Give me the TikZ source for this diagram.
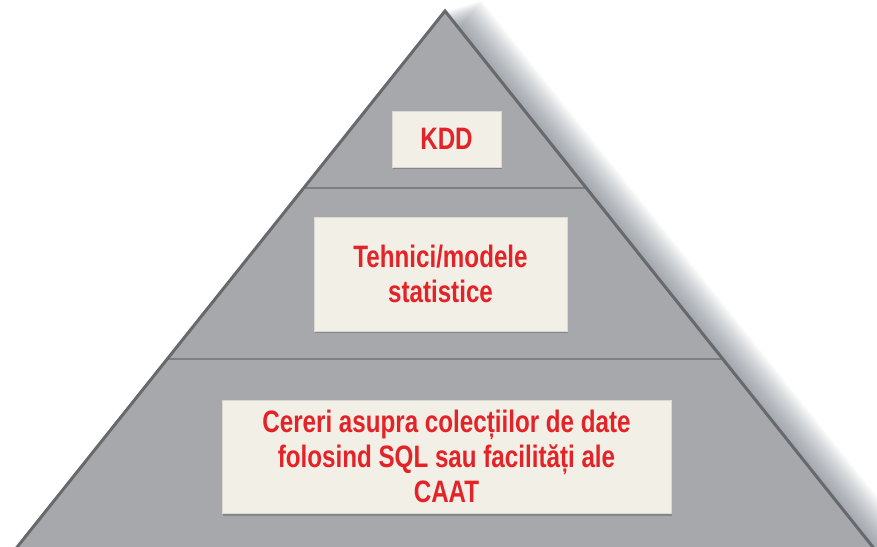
\documentclass[tikz,border=0pt]{standalone}
\usepackage{fontspec}
\setmainfont{Liberation Sans}[FakeStretch=0.78]
\usepackage{xcolor}
\usetikzlibrary{shadows}

\definecolor{pyrfill}{HTML}{A6A8AB}
\definecolor{pyredge}{HTML}{68696C}
\definecolor{pyrline}{HTML}{7D7F82}
\definecolor{shadowc}{HTML}{5A6470}
\definecolor{boxfill}{HTML}{F1EFE6}
\definecolor{boxedge}{HTML}{D9D8D2}
\definecolor{txtred}{HTML}{E42328}

\tikzset{
  layerbox/.style={fill=boxfill, draw=boxedge, line width=0.8pt, text=txtred,
    font=\bfseries\fontsize{31}{35}\selectfont, align=center, inner sep=0pt,
    drop shadow={shadow xshift=1pt, shadow yshift=-2.5pt, opacity=0.2, fill=black}},
  layerline/.style={draw=pyrline, line width=2.5pt}
}

\begin{document}
\begin{tikzpicture}[x=1pt, y=1pt]
  \useasboundingbox (0,0) rectangle (877,546);
  \clip (0,0) rectangle (877,546);

  \coordinate (top) at (445,535);
  \coordinate (bl) at (10,-10);
  \coordinate (br) at (880,-10);

  % soft shadow on the right
  \foreach \s in {1,...,26}{
    \begin{scope}[transform canvas={shift={(\s*1.4pt,\s*0.4pt)}}]
      \fill[shadowc, opacity=0.03] (top) -- (bl) -- (br) -- cycle;
    \end{scope}
  }

  % pyramid
  \fill[pyrfill] (top) -- (bl) -- (br) -- cycle;
  \coordinate (l1a) at (305,358);
  \coordinate (l1b) at (585,358);
  \coordinate (l2a) at (166,187);
  \coordinate (l2b) at (724,187);
  \draw[layerline] (l1a) -- (l1b);
  \draw[layerline] (l2a) -- (l2b);
  \draw[pyredge, line width=3pt, line join=miter] (bl) -- (top) -- (br);

  % levels
  \node[layerbox, minimum width=109pt, minimum height=56pt] (kdd) at (446.5,407) {KDD};
  \node[layerbox, minimum width=253pt, minimum height=114pt] (stat) at (440.5,272)
    {Tehnici/modele\\statistice};
  \node[layerbox, minimum width=449pt, minimum height=113pt] (sql) at (446.5,89.5)
    {Cereri asupra colecțiilor de date\\folosind SQL sau facilități ale\\CAAT};
\end{tikzpicture}
\end{document}
